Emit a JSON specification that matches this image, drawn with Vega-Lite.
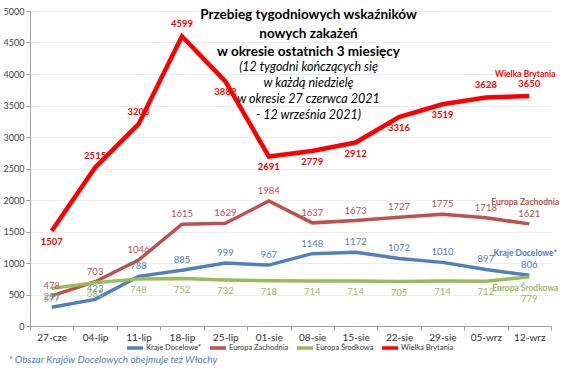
{
  "$schema": "https://vega.github.io/schema/vega-lite/v6.json",
  "width": 521,
  "height": 315,
  "autosize": {"type": "none"},
  "padding": {"left": 30, "top": 11, "right": 13, "bottom": 43},
  "background": "white",
  "config": {"font": "Lato", "view": {"stroke": null}},
  "title": {
    "text": ["Przebieg tygodniowych wskaźników", "nowych zakażeń", "w okresie ostatnich 3 miesięcy"],
    "subtitle": ["(12 tygodni kończących się", "w każdą niedzielę", "w okresie 27 czerwca 2021", "- 12 września 2021)"],
    "anchor": "middle",
    "dx": 18,
    "offset": -114,
    "font": "Lato",
    "fontSize": 13.5,
    "fontWeight": "bold",
    "color": "#000000",
    "lineHeight": 18.5,
    "subtitleFont": "Lato",
    "subtitleFontSize": 12.5,
    "subtitleFontStyle": "italic",
    "subtitleColor": "#000000",
    "subtitleLineHeight": 16,
    "subtitlePadding": 2
  },
  "data": {
    "values": [
      {"week": "27-cze", "series": "Kraje Docelowe*", "value": 297},
      {"week": "04-lip", "series": "Kraje Docelowe*", "value": 423},
      {"week": "11-lip", "series": "Kraje Docelowe*", "value": 788},
      {"week": "18-lip", "series": "Kraje Docelowe*", "value": 885},
      {"week": "25-lip", "series": "Kraje Docelowe*", "value": 999},
      {"week": "01-sie", "series": "Kraje Docelowe*", "value": 967},
      {"week": "08-sie", "series": "Kraje Docelowe*", "value": 1148},
      {"week": "15-sie", "series": "Kraje Docelowe*", "value": 1172},
      {"week": "22-sie", "series": "Kraje Docelowe*", "value": 1072},
      {"week": "29-sie", "series": "Kraje Docelowe*", "value": 1010},
      {"week": "05-wrz", "series": "Kraje Docelowe*", "value": 897},
      {"week": "12-wrz", "series": "Kraje Docelowe*", "value": 806},
      {"week": "27-cze", "series": "Europa Zachodnia", "value": 478},
      {"week": "04-lip", "series": "Europa Zachodnia", "value": 703},
      {"week": "11-lip", "series": "Europa Zachodnia", "value": 1046},
      {"week": "18-lip", "series": "Europa Zachodnia", "value": 1615},
      {"week": "25-lip", "series": "Europa Zachodnia", "value": 1629},
      {"week": "01-sie", "series": "Europa Zachodnia", "value": 1984},
      {"week": "08-sie", "series": "Europa Zachodnia", "value": 1637},
      {"week": "15-sie", "series": "Europa Zachodnia", "value": 1673},
      {"week": "22-sie", "series": "Europa Zachodnia", "value": 1727},
      {"week": "29-sie", "series": "Europa Zachodnia", "value": 1775},
      {"week": "05-wrz", "series": "Europa Zachodnia", "value": 1718},
      {"week": "12-wrz", "series": "Europa Zachodnia", "value": 1621},
      {"week": "27-cze", "series": "Europa Środkowa", "value": 597},
      {"week": "04-lip", "series": "Europa Środkowa", "value": 685},
      {"week": "11-lip", "series": "Europa Środkowa", "value": 748},
      {"week": "18-lip", "series": "Europa Środkowa", "value": 752},
      {"week": "25-lip", "series": "Europa Środkowa", "value": 732},
      {"week": "01-sie", "series": "Europa Środkowa", "value": 718},
      {"week": "08-sie", "series": "Europa Środkowa", "value": 714},
      {"week": "15-sie", "series": "Europa Środkowa", "value": 714},
      {"week": "22-sie", "series": "Europa Środkowa", "value": 705},
      {"week": "29-sie", "series": "Europa Środkowa", "value": 714},
      {"week": "05-wrz", "series": "Europa Środkowa", "value": 712},
      {"week": "12-wrz", "series": "Europa Środkowa", "value": 779},
      {"week": "27-cze", "series": "Wielka Brytania", "value": 1507},
      {"week": "04-lip", "series": "Wielka Brytania", "value": 2515},
      {"week": "11-lip", "series": "Wielka Brytania", "value": 3203},
      {"week": "18-lip", "series": "Wielka Brytania", "value": 4599},
      {"week": "25-lip", "series": "Wielka Brytania", "value": 3882},
      {"week": "01-sie", "series": "Wielka Brytania", "value": 2691},
      {"week": "08-sie", "series": "Wielka Brytania", "value": 2779},
      {"week": "15-sie", "series": "Wielka Brytania", "value": 2912},
      {"week": "22-sie", "series": "Wielka Brytania", "value": 3316},
      {"week": "29-sie", "series": "Wielka Brytania", "value": 3519},
      {"week": "05-wrz", "series": "Wielka Brytania", "value": 3628},
      {"week": "12-wrz", "series": "Wielka Brytania", "value": 3650}
    ]
  },
  "encoding": {
    "x": {
      "field": "week",
      "type": "ordinal",
      "sort": null,
      "scale": {
        "type": "band",
        "paddingInner": 0,
        "paddingOuter": 0,
        "domain": ["27-cze", "04-lip", "11-lip", "18-lip", "25-lip", "01-sie", "08-sie", "15-sie", "22-sie", "29-sie", "05-wrz", "12-wrz"]
      },
      "axis": {
        "title": "* Obszar Krajów Docelowych obejmuje też Włochy",
        "titleFont": "Lato",
        "titleFontStyle": "italic",
        "titleFontWeight": "normal",
        "titleFontSize": 10,
        "titleColor": "#4F81BD",
        "titleX": -22,
        "titleY": 36,
        "titleAlign": "left",
        "titleAnchor": "start",
        "titleBaseline": "alphabetic",
        "labelAngle": 0,
        "labelFontSize": 10,
        "labelColor": "#333333",
        "labelPadding": 2,
        "tickBand": "extent",
        "tickSize": 4,
        "tickColor": "#a0a0a0",
        "domainColor": "#a0a0a0",
        "grid": false
      }
    },
    "y": {
      "field": "value",
      "type": "quantitative",
      "scale": {"domain": [0, 5000], "nice": false},
      "axis": {
        "title": null,
        "format": "d",
        "values": [0, 500, 1000, 1500, 2000, 2500, 3000, 3500, 4000, 4500, 5000],
        "labelFontSize": 9,
        "labelColor": "#444444",
        "labelPadding": 2,
        "tickSize": 4,
        "tickColor": "#a0a0a0",
        "domainColor": "#a0a0a0",
        "gridColor": "#ececec"
      }
    },
    "color": {
      "field": "series",
      "type": "nominal",
      "scale": {
        "domain": ["Kraje Docelowe*", "Europa Zachodnia", "Europa Środkowa", "Wielka Brytania"],
        "range": ["#4F81BD", "#C0504D", "#9BBB59", "#FF0000"]
      },
      "legend": {
        "orient": "none",
        "legendX": 95,
        "legendY": 327,
        "direction": "horizontal",
        "columns": 4,
        "title": null,
        "symbolType": "stroke",
        "symbolSize": 256,
        "symbolStrokeWidth": 3.5,
        "labelFontSize": 7.5,
        "labelColor": "#333333",
        "labelOffset": 1,
        "columnPadding": 1,
        "padding": 0
      }
    }
  },
  "layer": [
    {
      "transform": [{"filter": "datum.series !== 'Wielka Brytania'"}],
      "mark": {"type": "line", "strokeWidth": 3.5}
    },
    {
      "transform": [{"filter": "datum.series === 'Wielka Brytania'"}],
      "mark": {"type": "line", "strokeWidth": 4.5}
    },
    {
      "transform": [{"filter": "datum.series === 'Kraje Docelowe*' || datum.series === 'Europa Zachodnia'"}],
      "mark": {"type": "text", "dy": -10, "fontSize": 9.5},
      "encoding": {"text": {"field": "value", "type": "quantitative"}}
    },
    {
      "transform": [{"filter": "datum.series === 'Europa Środkowa' && datum.week !== '12-wrz'"}],
      "mark": {"type": "text", "dy": 11, "fontSize": 9.5},
      "encoding": {"text": {"field": "value", "type": "quantitative"}}
    },
    {
      "transform": [{"filter": "datum.series === 'Europa Środkowa' && datum.week === '12-wrz'"}],
      "mark": {"type": "text", "dy": 22, "fontSize": 9.5},
      "encoding": {"text": {"field": "value", "type": "quantitative"}}
    },
    {
      "transform": [{"filter": "datum.series === 'Wielka Brytania' && indexof(['04-lip','11-lip','18-lip','05-wrz','12-wrz'], datum.week) >= 0"}],
      "mark": {"type": "text", "dy": -12, "fontSize": 9.5, "fontWeight": "bold"},
      "encoding": {"text": {"field": "value", "type": "quantitative"}}
    },
    {
      "transform": [{"filter": "datum.series === 'Wielka Brytania' && indexof(['04-lip','11-lip','18-lip','05-wrz','12-wrz'], datum.week) < 0"}],
      "mark": {"type": "text", "dy": 11, "fontSize": 9.5, "fontWeight": "bold"},
      "encoding": {"text": {"field": "value", "type": "quantitative"}}
    },
    {
      "transform": [{"filter": "datum.week === '12-wrz' && datum.series !== 'Europa Środkowa'"}],
      "mark": {"type": "text", "dy": -22, "dx": -4, "fontSize": 8.5, "fontWeight": "bold"},
      "encoding": {"text": {"field": "series", "type": "nominal"}}
    },
    {
      "transform": [{"filter": "datum.week === '12-wrz' && datum.series === 'Europa Środkowa'"}],
      "mark": {"type": "text", "dy": 11, "dx": -4, "fontSize": 8.5, "fontWeight": "bold"},
      "encoding": {"text": {"field": "series", "type": "nominal"}}
    }
  ]
}
